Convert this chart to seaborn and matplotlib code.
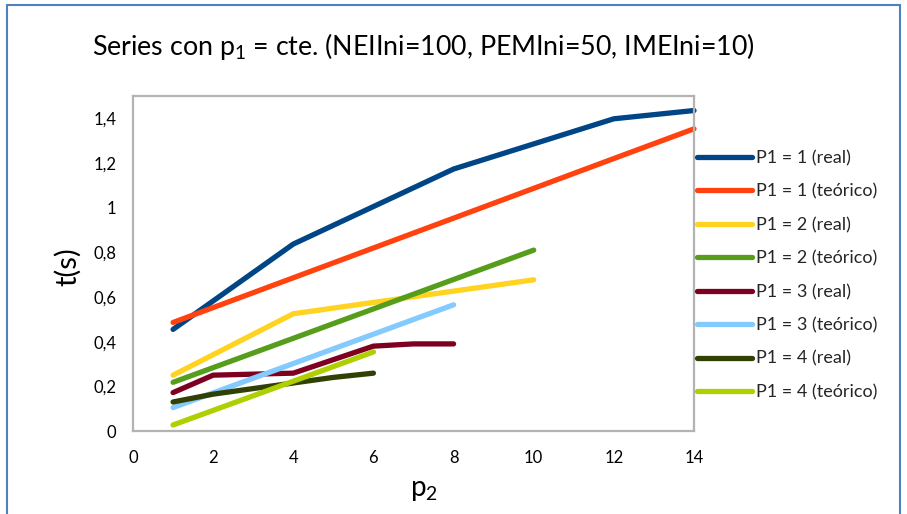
import matplotlib
matplotlib.use("Agg")
import matplotlib.pyplot as plt
import seaborn as sns
import pandas as pd
from matplotlib.lines import Line2D

sns.set_theme(style="white")
plt.rcParams['font.family'] = ['Lato', 'DejaVu Sans']
plt.rcParams['mathtext.fontset'] = 'custom'
plt.rcParams['mathtext.rm'] = 'Lato'
plt.rcParams['mathtext.it'] = 'Lato:italic'

# ---- data: measured times t(s) against p2 for each fixed p1 ----
series_names = [
    "P1 = 1 (real)", "P1 = 1 (teórico)",
    "P1 = 2 (real)", "P1 = 2 (teórico)",
    "P1 = 3 (real)", "P1 = 3 (teórico)",
    "P1 = 4 (real)", "P1 = 4 (teórico)",
]
series_colors = ["#004586", "#FF420E", "#FFD320", "#579D1C",
                 "#7E0021", "#83CAFF", "#314004", "#AECF00"]

p2_p1_1_real = [1, 4, 8, 12, 14]
t_p1_1_real = [0.455, 0.837, 1.173, 1.398, 1.435]
p2_p1_1_teo = [1, 4, 8, 12, 14]
t_p1_1_teo = [0.486, 0.686, 0.953, 1.22, 1.353]

p2_p1_2_real = [1, 4, 10]
t_p1_2_real = [0.25, 0.525, 0.677]
p2_p1_2_teo = [1, 4, 10]
t_p1_2_teo = [0.218, 0.415, 0.81]

p2_p1_3_real = [1, 2, 4, 6, 7, 8]
t_p1_3_real = [0.172, 0.25, 0.259, 0.38, 0.39, 0.39]
p2_p1_3_teo = [1, 4, 8]
t_p1_3_teo = [0.105, 0.302, 0.565]

p2_p1_4_real = [1, 2, 4, 5, 6]
t_p1_4_real = [0.13, 0.165, 0.215, 0.24, 0.259]
p2_p1_4_teo = [1, 4, 6]
t_p1_4_teo = [0.027, 0.223, 0.354]

x_ticks = [0, 2, 4, 6, 8, 10, 12, 14]
y_ticks = [0, 0.2, 0.4, 0.6, 0.8, 1.0, 1.2, 1.4]
y_tick_labels = ["0", "0,2", "0,4", "0,6", "0,8", "1", "1,2", "1,4"]

p2_lists = [p2_p1_1_real, p2_p1_1_teo, p2_p1_2_real, p2_p1_2_teo,
            p2_p1_3_real, p2_p1_3_teo, p2_p1_4_real, p2_p1_4_teo]
t_lists = [t_p1_1_real, t_p1_1_teo, t_p1_2_real, t_p1_2_teo,
           t_p1_3_real, t_p1_3_teo, t_p1_4_real, t_p1_4_teo]

rows = []
for name, xs, ys in zip(series_names, p2_lists, t_lists):
    for xv, yv in zip(xs, ys):
        rows.append({"serie": name, "p2": xv, "t": yv})
df = pd.DataFrame(rows)
palette = dict(zip(series_names, series_colors))

# ---- figure ----
W, H = 907, 514
fig = plt.figure(figsize=(W / 100, H / 100), dpi=100)
fig.patch.set_facecolor("white")
ax = fig.add_axes([133 / W, 1 - 431 / H, (694 - 133) / W, (431 - 96) / H])

for name in series_names:
    sub = df[df["serie"] == name]
    sns.lineplot(data=sub, x="p2", y="t", color=palette[name], linewidth=3.8,
                 estimator=None, sort=False, ax=ax, legend=False,
                 solid_capstyle="round", solid_joinstyle="round", clip_on=False)

ax.set_xlim(0, 14)
ax.set_ylim(0, 1.5)
ax.set_xticks(x_ticks)
ax.set_xticklabels([str(v) for v in x_ticks])
ax.set_yticks(y_ticks)
ax.set_yticklabels(y_tick_labels)
ax.tick_params(axis="both", length=0, labelsize=12, colors="black")
ax.tick_params(axis="x", pad=14)
ax.tick_params(axis="y", pad=12)
for s in ax.spines.values():
    s.set_color("#B3B3B3")
    s.set_linewidth(1.6)
ax.set_xlabel("")
ax.set_ylabel("")

fig.text(424 / W, 1 - 490 / H, "p$_\\mathregular{2}$", ha="center", va="center",
         fontsize=20, color="black")
fig.text(68 / W, 1 - 267 / H, "t(s)", ha="center", va="center",
         rotation=90, fontsize=21, color="black")
fig.text(423 / W, 1 - 47 / H,
         "Series con p$_\\mathregular{1}$ = cte. (NEIIni=100, PEMIni=50, IMEIni=10)",
         ha="center", va="center", fontsize=19.3, color="black")

handles = [Line2D([0], [0], color=c, linewidth=3.8, solid_capstyle="round")
           for c in series_colors]
ax.legend(handles, series_names, loc="upper left",
          bbox_to_anchor=(697 / W, 1 - 150 / H), bbox_transform=fig.transFigure,
          frameon=False, fontsize=13, handlelength=3.05, handletextpad=0.2,
          labelspacing=0.96, borderpad=0, borderaxespad=0)

# outer chart border
border = "#4F81BD"
fig.add_artist(Line2D([7 / W, 7 / W], [0, 1 - 5 / H], color=border, linewidth=1.5,
                      transform=fig.transFigure))
fig.add_artist(Line2D([7 / W, 900 / W], [1 - 5 / H, 1 - 5 / H], color=border,
                      linewidth=1.5, transform=fig.transFigure))
fig.add_artist(Line2D([900 / W, 900 / W], [0, 1 - 5 / H], color=border, linewidth=1.5,
                      transform=fig.transFigure))

fig.savefig("out.png", dpi=100, facecolor="white")
